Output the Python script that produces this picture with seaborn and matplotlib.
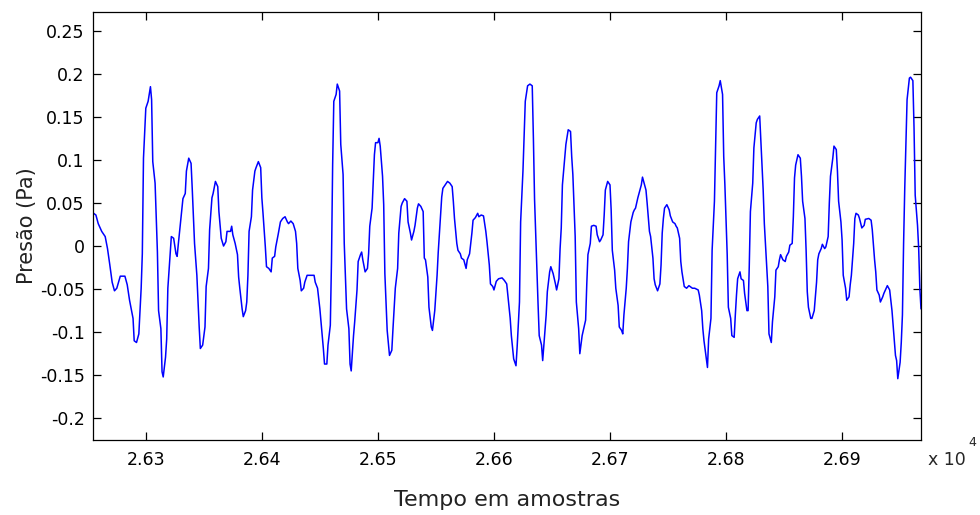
import numpy as np
import seaborn as sns
import matplotlib
matplotlib.use("Agg")
import matplotlib.pyplot as plt

amostras_a = [26255, 26257, 26259, 26262, 26265, 26267, 26269, 26271, 26273, 26275,
              26278, 26282, 26284, 26286, 26289, 26290, 26292, 26294, 26296, 26297,
              26298, 26300, 26302, 26304, 26305, 26306, 26308, 26310, 26311, 26313,
              26314, 26315, 26317, 26318, 26319, 26321, 26322, 26324, 26326, 26327,
              26328, 26330, 26332, 26334, 26335, 26337, 26339, 26340, 26342, 26344,
              26346, 26347, 26349, 26351, 26352, 26354, 26355, 26357, 26358, 26360,
              26362, 26363, 26365, 26367, 26369, 26370]
pressao_a = [0.038, 0.036, 0.026, 0.017, 0.011, -0.003, -0.022, -0.042, -0.052, -0.049,
             -0.035, -0.035, -0.045, -0.063, -0.084, -0.110, -0.112, -0.102, -0.049, -0.009,
             0.102, 0.160, 0.168, 0.185, 0.170, 0.098, 0.073, -0.007, -0.075, -0.096,
             -0.146, -0.152, -0.129, -0.108, -0.049, -0.009, 0.011, 0.009, -0.009, -0.012,
             0.002, 0.028, 0.055, 0.061, 0.087, 0.102, 0.096, 0.067, 0.003, -0.034,
             -0.094, -0.119, -0.115, -0.094, -0.047, -0.026, 0.019, 0.056, 0.061, 0.075,
             0.069, 0.040, 0.009, 0.000, 0.005, 0.017]

amostras_b = [26373, 26374, 26375, 26377, 26379, 26380, 26381, 26383, 26384, 26386,
              26387, 26388, 26389, 26391, 26392, 26394, 26395, 26397, 26399, 26400,
              26401, 26403, 26404, 26406, 26408, 26409, 26411, 26412, 26414, 26416,
              26418, 26420, 26422, 26423, 26425, 26427, 26429, 26430, 26431, 26433,
              26434, 26436, 26437, 26439, 26442, 26445, 26446, 26448, 26450, 26452,
              26453, 26454, 26456, 26457, 26459, 26460, 26461, 26462, 26464, 26465,
              26467, 26468, 26470, 26471, 26473, 26475, 26476, 26477, 26479, 26480,
              26482, 26483, 26485]
pressao_b = [0.017, 0.023, 0.013, 0.003, -0.010, -0.036, -0.049, -0.073, -0.082, -0.075,
             -0.065, -0.034, 0.017, 0.034, 0.065, 0.087, 0.091, 0.098, 0.091, 0.056,
             0.038, -0.001, -0.024, -0.026, -0.030, -0.014, -0.012, -0.001, 0.013, 0.028,
             0.032, 0.034, 0.028, 0.026, 0.029, 0.026, 0.017, 0.003, -0.026, -0.040,
             -0.052, -0.049, -0.042, -0.034, -0.034, -0.034, -0.042, -0.049, -0.073, -0.104,
             -0.119, -0.137, -0.137, -0.115, -0.092, -0.018, 0.094, 0.168, 0.176, 0.188,
             0.180, 0.118, 0.083, 0.003, -0.073, -0.096, -0.137, -0.145, -0.104, -0.088,
             -0.051, -0.018, -0.010]

amostras_c = [26486, 26487, 26489, 26491, 26492, 26493, 26495, 26496, 26497, 26498,
              26500, 26501, 26502, 26504, 26505, 26506, 26508, 26510, 26512, 26513,
              26515, 26517, 26518, 26520, 26521, 26523, 26525, 26526, 26528, 26529,
              26531, 26532, 26534, 26535, 26537, 26539, 26540, 26541, 26543, 26544,
              26546, 26547, 26549, 26551, 26552, 26554, 26555, 26556, 26558, 26560,
              26562, 26564, 26565, 26566, 26568, 26569, 26571, 26572, 26574, 26576,
              26577, 26579, 26581, 26582, 26584, 26586, 26587, 26589, 26591, 26593,
              26594, 26596, 26597, 26599, 26600]
pressao_c = [-0.007, -0.016, -0.030, -0.026, -0.009, 0.023, 0.044, 0.075, 0.106, 0.120,
             0.120, 0.125, 0.116, 0.081, 0.048, -0.032, -0.098, -0.127, -0.121, -0.096,
             -0.049, -0.026, 0.015, 0.046, 0.050, 0.055, 0.052, 0.028, 0.015, 0.007,
             0.017, 0.024, 0.044, 0.049, 0.046, 0.040, -0.014, -0.016, -0.036, -0.071,
             -0.094, -0.098, -0.075, -0.034, -0.007, 0.036, 0.057, 0.067, 0.071, 0.075,
             0.073, 0.069, 0.052, 0.032, 0.003, -0.005, -0.009, -0.014, -0.016, -0.026,
             -0.016, -0.009, 0.015, 0.030, 0.033, 0.038, 0.034, 0.036, 0.035, 0.017,
             0.005, -0.022, -0.044, -0.047, -0.051]

amostras_d = [26602, 26604, 26607, 26609, 26611, 26612, 26614, 26615, 26617, 26619,
              26620, 26622, 26623, 26625, 26627, 26629, 26631, 26633, 26634, 26635,
              26636, 26638, 26639, 26641, 26642, 26643, 26645, 26646, 26648, 26649,
              26651, 26653, 26654, 26656, 26657, 26658, 26659, 26661, 26662, 26664,
              26666, 26667, 26668, 26670, 26671, 26673, 26674, 26676, 26677, 26679,
              26680, 26681, 26683, 26684, 26686, 26688, 26689, 26691, 26692, 26694,
              26695, 26696, 26698, 26700, 26701, 26702, 26704, 26705, 26707, 26708,
              26710, 26711, 26712, 26714, 26715, 26716]
pressao_d = [-0.041, -0.038, -0.037, -0.040, -0.044, -0.057, -0.084, -0.104, -0.131, -0.139,
             -0.117, -0.065, 0.028, 0.087, 0.168, 0.186, 0.188, 0.186, 0.125, 0.054,
             0.013, -0.067, -0.104, -0.115, -0.133, -0.115, -0.080, -0.053, -0.030, -0.024,
             -0.032, -0.044, -0.051, -0.038, -0.003, 0.021, 0.071, 0.102, 0.118, 0.135,
             0.133, 0.104, 0.083, 0.011, -0.065, -0.096, -0.125, -0.104, -0.098, -0.086,
             -0.044, -0.010, 0.003, 0.023, 0.024, 0.023, 0.013, 0.005, 0.007, 0.013,
             0.036, 0.065, 0.075, 0.071, 0.042, -0.005, -0.028, -0.049, -0.069, -0.094,
             -0.098, -0.102, -0.080, -0.049, -0.026, 0.005]

amostras_e = [26718, 26720, 26721, 26722, 26724, 26725, 26727, 26728, 26729, 26731,
              26732, 26734, 26735, 26737, 26738, 26739, 26741, 26743, 26744, 26745,
              26746, 26747, 26749, 26751, 26752, 26754, 26756, 26757, 26758, 26760,
              26761, 26762, 26764, 26766, 26768, 26771, 26773, 26776, 26777, 26779,
              26780, 26781, 26783, 26784, 26785, 26787, 26788, 26790, 26791, 26792,
              26794, 26795, 26797, 26798, 26799, 26801, 26802, 26804, 26805, 26807,
              26808, 26809, 26810, 26812, 26813, 26815, 26816, 26818, 26819, 26820,
              26821, 26823, 26824, 26826, 26827, 26829, 26830, 26832, 26833]
pressao_e = [0.028, 0.039, 0.042, 0.044, 0.056, 0.061, 0.071, 0.080, 0.075, 0.065,
             0.050, 0.017, 0.011, -0.014, -0.038, -0.045, -0.052, -0.044, -0.022, 0.015,
             0.032, 0.044, 0.048, 0.042, 0.035, 0.028, 0.026, 0.023, 0.021, 0.009,
             -0.018, -0.030, -0.047, -0.049, -0.046, -0.049, -0.049, -0.051, -0.057, -0.075,
             -0.096, -0.110, -0.131, -0.141, -0.108, -0.084, -0.005, 0.052, 0.116, 0.178,
             0.186, 0.192, 0.176, 0.104, 0.071, -0.010, -0.071, -0.084, -0.104, -0.106,
             -0.080, -0.057, -0.038, -0.030, -0.038, -0.040, -0.055, -0.075, -0.075, -0.024,
             0.040, 0.073, 0.114, 0.143, 0.147, 0.151, 0.122, 0.065, 0.026]

amostras_f = [26836, 26837, 26839, 26840, 26842, 26843, 26845, 26846, 26847, 26849,
              26851, 26852, 26854, 26855, 26857, 26858, 26859, 26860, 26862, 26864,
              26865, 26866, 26868, 26869, 26870, 26871, 26873, 26874, 26876, 26878,
              26879, 26880, 26882, 26883, 26885, 26886, 26888, 26889, 26890, 26892,
              26893, 26895, 26896, 26897, 26899, 26900, 26901, 26903, 26904, 26906,
              26907, 26908, 26910, 26911, 26912, 26914, 26915, 26917, 26919, 26920,
              26923, 26925, 26926, 26928, 26929, 26930, 26932, 26933, 26935, 26936,
              26938, 26939, 26941, 26943, 26944, 26946, 26947, 26948, 26950, 26951,
              26952, 26953, 26954, 26956, 26958, 26959, 26961, 26962, 26963, 26965,
              26966, 26967, 26968]
pressao_f = [-0.047, -0.102, -0.112, -0.088, -0.059, -0.028, -0.024, -0.016, -0.010, -0.016,
             -0.018, -0.012, -0.007, 0.001, 0.003, 0.034, 0.079, 0.094, 0.106, 0.102,
             0.081, 0.052, 0.032, -0.005, -0.053, -0.071, -0.084, -0.084, -0.075, -0.042,
             -0.016, -0.009, -0.003, 0.002, -0.003, -0.001, 0.011, 0.050, 0.081, 0.102,
             0.116, 0.112, 0.087, 0.052, 0.028, 0.007, -0.034, -0.049, -0.063, -0.059,
             -0.045, -0.034, 0.003, 0.032, 0.038, 0.036, 0.032, 0.021, 0.024, 0.031,
             0.032, 0.030, 0.019, -0.016, -0.030, -0.051, -0.057, -0.065, -0.059, -0.055,
             -0.049, -0.046, -0.051, -0.075, -0.092, -0.127, -0.133, -0.154, -0.135, -0.112,
             -0.080, 0.003, 0.067, 0.170, 0.195, 0.196, 0.192, 0.137, 0.059, 0.024,
             -0.003, -0.049, -0.073]

x_ticks = [26300, 26400, 26500, 26600, 26700, 26800, 26900]
x_labels = ["2.63", "2.64", "2.65", "2.66", "2.67", "2.68", "2.69"]
y_ticks = [-0.2, -0.15, -0.1, -0.05, 0, 0.05, 0.1, 0.15, 0.2, 0.25]
y_labels = ["-0.2", "-0.15", "-0.1", "-0.05", "0", "0.05", "0.1", "0.15", "0.2", "0.25"]

amostras = np.array(amostras_a + amostras_b + amostras_c + amostras_d + amostras_e + amostras_f)
pressao = np.array(pressao_a + pressao_b + pressao_c + pressao_d + pressao_e + pressao_f)

sns.set_style("white")
plt.rcParams['font.family'] = ['DejaVu Sans']

fig = plt.figure(figsize=(9.8, 5.15), dpi=100)
ax = fig.add_axes([93 / 980, 75 / 515, 828 / 980, 428 / 515])

sns.lineplot(x=amostras, y=pressao, ax=ax, estimator=None, sort=False,
             color="#0000ff", linewidth=1.1)

ax.set_xlim(26254.5, 26968)
ax.set_ylim(-0.2252, 0.2717)
ax.set_xticks(x_ticks)
ax.set_xticklabels(x_labels)
ax.set_yticks(y_ticks)
ax.set_yticklabels(y_labels)

for s in ax.spines.values():
    s.set_visible(True)
    s.set_color("black")
    s.set_linewidth(0.9)
ax.tick_params(direction="in", length=6, width=0.9, top=True, right=True,
               bottom=True, left=True, labelsize=12.5, colors="black", pad=6)
ax.tick_params(axis="x", pad=8)

ax.set_xlabel("Tempo em amostras", fontsize=16, labelpad=15, color="#222222")
ax.set_ylabel("Presão (Pa)", fontsize=15, labelpad=2, color="#222222")

# multiplicador do eixo x, como no estilo MATLAB
fig.text(928 / 980, 1 - 460 / 515, "x 10", fontsize=12.5, ha="left", va="center")
fig.text(968 / 980, 1 - 443 / 515, "4", fontsize=9, ha="left", va="center")

plt.savefig("out.png", dpi=100)
